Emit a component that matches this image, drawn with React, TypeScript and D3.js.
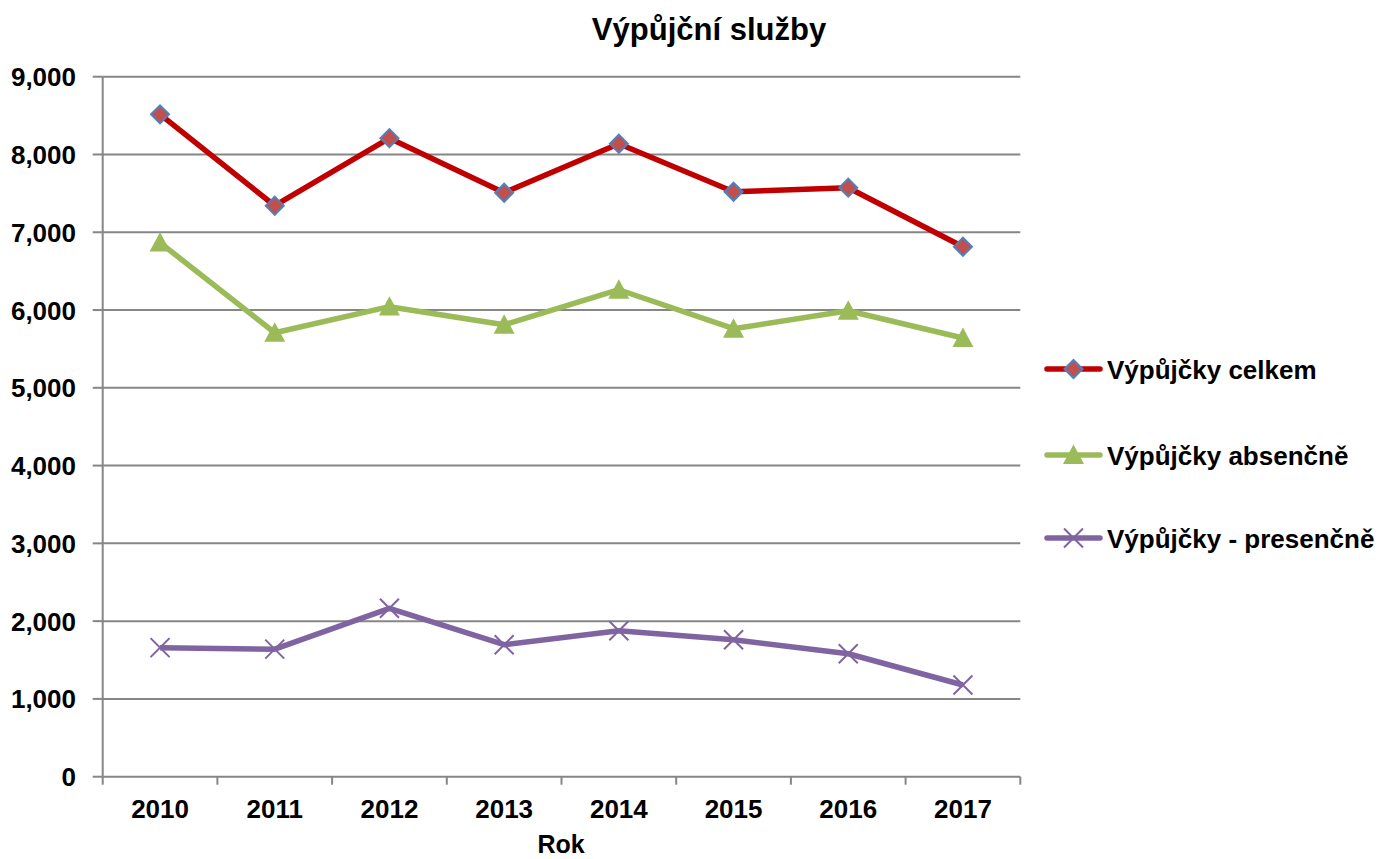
import React, { useEffect, useRef } from "react";
import * as d3 from "d3";

const years = ["2010", "2011", "2012", "2013", "2014", "2015", "2016", "2017"];
const celkem = [8516, 7341, 8210, 7508, 8138, 7521, 7573, 6814];
const absencne = [6866, 5708, 6043, 5811, 6261, 5760, 5991, 5640];
const presencne = [1659, 1640, 2165, 1697, 1877, 1761, 1581, 1179];
const yTicks = [0, 1000, 2000, 3000, 4000, 5000, 6000, 7000, 8000, 9000];

const series = [
  { name: "Výpůjčky celkem", values: celkem, color: "#C00000", marker: "diamond" },
  { name: "Výpůjčky absenčně", values: absencne, color: "#9BBB59", marker: "triangle" },
  { name: "Výpůjčky - presenčně", values: presencne, color: "#8064A2", marker: "x" },
];

const W = 1384;
const H = 859;
const margin = { left: 102.7, right: 1020.3, top: 76.7, bottom: 776.7 };
const font = "Arial, 'Liberation Sans', sans-serif";

function drawMarker(g: any, type: string, x: number, y: number, color: string) {
  if (type === "diamond") {
    const s = 9;
    g.append("path")
      .attr("d", `M${x},${y - s}L${x + s},${y}L${x},${y + s}L${x - s},${y}Z`)
      .attr("fill", "#C0504D")
      .attr("stroke", "#4F81BD")
      .attr("stroke-width", 2);
  } else if (type === "triangle") {
    const s = 10.5;
    g.append("path")
      .attr("d", `M${x},${y - s}L${x + s},${y + s * 0.85}L${x - s},${y + s * 0.85}Z`)
      .attr("fill", color);
  } else {
    const s = 9.5;
    g.append("path")
      .attr("d", `M${x - s},${y - s}L${x + s},${y + s}M${x - s},${y + s}L${x + s},${y - s}`)
      .attr("stroke", color)
      .attr("stroke-width", 2)
      .attr("fill", "none");
  }
}

export default function App() {
  const ref = useRef<SVGSVGElement>(null);

  useEffect(() => {
    if (!ref.current) return;
    const svg = d3.select(ref.current);
    svg.selectAll("*").remove();

    const x = d3.scaleBand().domain(years).range([margin.left, margin.right]);
    const y = d3.scaleLinear().domain([0, 9000]).range([margin.bottom, margin.top]);

    // gridlines
    svg
      .append("g")
      .selectAll("line")
      .data(yTicks.filter((t) => t > 0))
      .enter()
      .append("line")
      .attr("x1", margin.left)
      .attr("x2", margin.right)
      .attr("y1", (d) => y(d))
      .attr("y2", (d) => y(d))
      .attr("stroke", "#868686")
      .attr("stroke-width", 2);

    // y axis
    const yAxis = svg.append("g");
    yAxis
      .append("line")
      .attr("x1", margin.left)
      .attr("x2", margin.left)
      .attr("y1", margin.top)
      .attr("y2", margin.bottom)
      .attr("stroke", "#868686")
      .attr("stroke-width", 2);
    yAxis
      .selectAll(".tk")
      .data(yTicks)
      .enter()
      .append("line")
      .attr("x1", margin.left - 10)
      .attr("x2", margin.left)
      .attr("y1", (d) => y(d))
      .attr("y2", (d) => y(d))
      .attr("stroke", "#868686")
      .attr("stroke-width", 2);
    yAxis
      .selectAll("text")
      .data(yTicks)
      .enter()
      .append("text")
      .attr("x", 76)
      .attr("y", (d) => y(d) + 9.5)
      .attr("text-anchor", "end")
      .attr("font-family", font)
      .attr("font-weight", "bold")
      .attr("font-size", 26)
      .text((d) => d3.format(",")(d));

    // x axis
    const xAxis = svg.append("g");
    xAxis
      .append("line")
      .attr("x1", margin.left)
      .attr("x2", margin.right)
      .attr("y1", margin.bottom)
      .attr("y2", margin.bottom)
      .attr("stroke", "#868686")
      .attr("stroke-width", 2);
    const bounds = years.map((yr) => x(yr) as number).concat([margin.right]);
    xAxis
      .selectAll(".tk")
      .data(bounds)
      .enter()
      .append("line")
      .attr("x1", (d) => d)
      .attr("x2", (d) => d)
      .attr("y1", margin.bottom)
      .attr("y2", margin.bottom + 8)
      .attr("stroke", "#868686")
      .attr("stroke-width", 2);
    xAxis
      .selectAll("text")
      .data(years)
      .enter()
      .append("text")
      .attr("x", (d) => (x(d) as number) + x.bandwidth() / 2)
      .attr("y", 818)
      .attr("text-anchor", "middle")
      .attr("font-family", font)
      .attr("font-weight", "bold")
      .attr("font-size", 26)
      .text((d) => d);

    svg
      .append("text")
      .attr("x", 561)
      .attr("y", 853)
      .attr("text-anchor", "middle")
      .attr("font-family", font)
      .attr("font-weight", "bold")
      .attr("font-size", 25)
      .text("Rok");

    svg
      .append("text")
      .attr("x", 709)
      .attr("y", 40)
      .attr("text-anchor", "middle")
      .attr("font-family", font)
      .attr("font-weight", "bold")
      .attr("font-size", 31)
      .text("Výpůjční služby");

    const line = d3
      .line<number>()
      .x((_, i) => (x(years[i]) as number) + x.bandwidth() / 2)
      .y((d) => y(d));

    series.forEach((s) => {
      const g = svg.append("g");
      g.append("path")
        .attr("d", line(s.values))
        .attr("fill", "none")
        .attr("stroke", s.color)
        .attr("stroke-width", 5.5)
        .attr("stroke-linejoin", "round");
      s.values.forEach((v, i) => {
        drawMarker(g, s.marker, (x(years[i]) as number) + x.bandwidth() / 2, y(v), s.color);
      });
    });

    // legend
    const legendY = [369, 455, 538];
    series.forEach((s, i) => {
      const g = svg.append("g");
      const ly = legendY[i];
      g.append("line")
        .attr("x1", 1047)
        .attr("x2", 1100)
        .attr("y1", ly)
        .attr("y2", ly)
        .attr("stroke", s.color)
        .attr("stroke-width", 5.5)
        .attr("stroke-linecap", "round");
      drawMarker(g, s.marker, 1073.5, ly, s.color);
      g.append("text")
        .attr("x", 1107)
        .attr("y", ly + 9.5)
        .attr("font-family", font)
        .attr("font-weight", "bold")
        .attr("font-size", 26)
        .text(s.name);
    });
  }, []);

  return <svg ref={ref} width={W} height={H} style={{ position: "absolute", left: 0, top: 0, background: "#fff" }} />;
}
